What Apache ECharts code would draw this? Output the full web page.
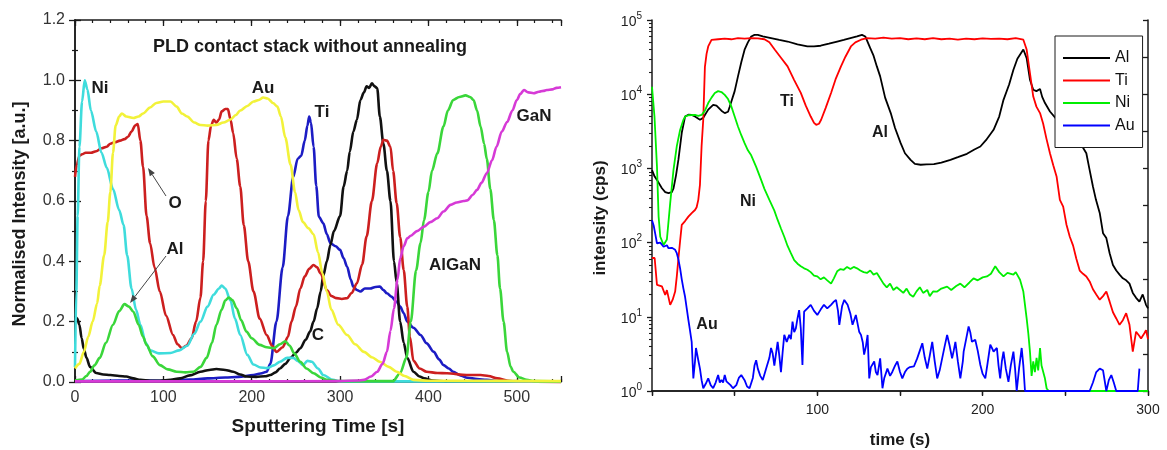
<!DOCTYPE html>
<html>
<head>
<meta charset="utf-8">
<script src="https://cdn.jsdelivr.net/npm/echarts@6/dist/echarts.min.js"></script>
<style>
  html, body { margin: 0; padding: 0; background: #ffffff; }
  #chart { width: 1167px; height: 450px; }
</style>
</head>
<body>
<div id="chart"></div>
<script>
// ---------- Left panel: normalised depth profiles, PLD stack (time [s], intensity [a.u.]) ----------
const profNi = [[0,0.05],[1.5,0.3],[3,0.55],[5,0.78],[8,0.93],[11,1.0],[14,0.97],[18,0.9],[24,0.83],[30,0.76],[36,0.71],[43,0.64],[50,0.57],[55,0.52],[59,0.42],[64,0.31],[69,0.24],[74,0.19],[80,0.13],[85,0.105],[95,0.095],[108,0.096],[118,0.105],[127,0.12],[135,0.16],[142,0.2],[150,0.25],[157,0.29],[163,0.31],[166,0.32],[170,0.31],[176,0.27],[181,0.21],[187,0.156],[195,0.09],[202,0.058],[210,0.048],[217,0.046],[225,0.055],[232,0.067],[240,0.08],[247,0.08],[252,0.07],[258,0.056],[263,0.07],[268,0.067],[275,0.045],[281,0.023],[292,0.007],[300,0.002],[550,0.002]];
const profAu = [[0,0.045],[5,0.06],[10,0.1],[15,0.15],[20,0.2],[25,0.26],[28,0.32],[33,0.42],[37,0.53],[40,0.63],[43,0.76],[46,0.85],[50,0.88],[53,0.89],[58,0.88],[66,0.875],[72,0.88],[77,0.89],[85,0.91],[92,0.925],[100,0.93],[108,0.93],[115,0.913],[121,0.89],[127,0.88],[135,0.86],[142,0.852],[150,0.85],[160,0.852],[168,0.86],[176,0.87],[182,0.885],[187,0.9],[195,0.915],[202,0.93],[208,0.935],[213,0.943],[218,0.94],[224,0.925],[229,0.913],[233,0.88],[238,0.81],[244,0.72],[249,0.63],[253,0.57],[258,0.53],[264,0.51],[270,0.49],[275,0.43],[280,0.36],[285,0.3],[290,0.24],[298,0.19],[308,0.156],[317,0.125],[327,0.1],[336,0.082],[345,0.067],[355,0.05],[364,0.034],[373,0.02],[383,0.007],[400,0.004],[550,0.003]];
const profO = [[0,0.68],[2,0.72],[5,0.75],[8,0.755],[12,0.76],[18,0.76],[24,0.765],[30,0.775],[36,0.78],[40,0.79],[45,0.795],[51,0.8],[56,0.805],[60,0.813],[64,0.83],[68,0.85],[71,0.855],[74,0.8],[77,0.714],[81,0.55],[85,0.46],[90,0.38],[96,0.3],[103,0.22],[111,0.156],[116,0.125],[121,0.112],[126,0.12],[132,0.145],[137,0.2],[142,0.28],[145,0.4],[148,0.6],[151,0.8],[154,0.85],[157,0.869],[160,0.86],[163,0.87],[166,0.897],[170,0.905],[173,0.905],[176,0.87],[179,0.825],[183,0.74],[187,0.648],[191,0.52],[196,0.4],[202,0.3],[209,0.21],[217,0.156],[223,0.12],[228,0.1],[235,0.115],[241,0.15],[245,0.2],[250,0.25],[255,0.31],[260,0.35],[265,0.375],[270,0.388],[274,0.38],[278,0.36],[285,0.305],[290,0.285],[296,0.278],[302,0.275],[308,0.278],[313,0.295],[319,0.327],[325,0.39],[330,0.482],[336,0.6],[342,0.725],[346,0.78],[349,0.803],[353,0.8],[357,0.78],[360,0.7],[364,0.593],[368,0.48],[372,0.371],[376,0.25],[379,0.15],[383,0.07],[390,0.045],[398,0.034],[410,0.03],[421,0.029],[443,0.023],[459,0.023],[468,0.02],[478,0.012],[490,0.004],[500,0.001],[550,0]];
const profTi = [[0,0.003],[50,0.005],[100,0.004],[130,0.008],[150,0.012],[170,0.015],[185,0.017],[202,0.023],[210,0.028],[217,0.034],[221,0.06],[228,0.2],[235,0.38],[241,0.55],[247,0.68],[252,0.74],[256,0.75],[260,0.8],[263,0.85],[265,0.88],[267,0.86],[270,0.78],[273,0.65],[276,0.548],[281,0.526],[285,0.49],[289,0.46],[295,0.45],[300,0.438],[304,0.41],[308,0.382],[312,0.34],[315,0.316],[319,0.305],[323,0.3],[328,0.31],[334,0.31],[340,0.315],[345,0.316],[349,0.305],[353,0.294],[358,0.283],[364,0.266],[368,0.25],[372,0.228],[376,0.2],[383,0.18],[391,0.156],[398,0.128],[406,0.1],[412,0.075],[417,0.056],[423,0.045],[428,0.034],[436,0.022],[444,0.014],[455,0.01],[466,0.007],[480,0.003],[550,0.001]];
const profAl = [[0,0.005],[8,0.008],[13,0.02],[17,0.034],[22,0.055],[28,0.08],[35,0.13],[43,0.19],[50,0.235],[56,0.258],[61,0.25],[66,0.233],[72,0.19],[77,0.15],[81,0.123],[88,0.085],[96,0.056],[105,0.042],[115,0.034],[125,0.032],[134,0.034],[142,0.05],[149,0.08],[155,0.13],[160,0.19],[166,0.24],[170,0.27],[174,0.28],[178,0.272],[183,0.244],[188,0.205],[194,0.167],[200,0.145],[209,0.123],[217,0.115],[225,0.112],[232,0.125],[238,0.135],[243,0.12],[248,0.095],[255,0.067],[262,0.045],[270,0.029],[278,0.015],[285,0.007],[300,0.003],[360,0.003],[368,0.03],[375,0.08],[380,0.2],[386,0.37],[391,0.46],[395,0.537],[400,0.63],[404,0.7],[410,0.758],[417,0.847],[422,0.9],[428,0.935],[435,0.945],[442,0.95],[447,0.945],[451,0.935],[455,0.9],[459,0.847],[463,0.79],[466,0.74],[470,0.64],[474,0.537],[478,0.42],[481,0.31],[485,0.2],[489,0.1],[493,0.05],[496,0.034],[503,0.015],[511,0.007],[520,0.003],[550,0.002]];
const profC = [[0,0.22],[2.5,0.21],[5,0.19],[7.5,0.145],[10,0.11],[13,0.08],[17,0.05],[24,0.03],[32,0.025],[40,0.023],[50,0.02],[58,0.018],[66,0.012],[74,0.007],[85,0.004],[96,0.004],[108,0.007],[119,0.012],[130,0.022],[142,0.034],[152,0.04],[160,0.043],[170,0.04],[179,0.034],[187,0.025],[194,0.018],[205,0.017],[215,0.019],[221,0.023],[227,0.032],[232,0.045],[238,0.06],[244,0.08],[250,0.097],[255,0.112],[261,0.14],[266,0.167],[270,0.2],[274,0.244],[278,0.3],[281,0.352],[285,0.4],[289,0.454],[293,0.5],[300,0.55],[304,0.648],[308,0.7],[311,0.764],[315,0.83],[319,0.869],[323,0.935],[327,0.96],[330,0.98],[333,0.975],[336,0.99],[339,0.98],[342,0.974],[345,0.88],[349,0.79],[353,0.7],[357,0.6],[361,0.4],[364,0.33],[368,0.2],[372,0.13],[376,0.08],[383,0.034],[390,0.018],[395,0.012],[405,0.005],[420,0.002],[550,0.001]];
const profGaN = [[0,0.002],[100,0.002],[200,0.002],[300,0.003],[320,0.005],[327,0.007],[335,0.018],[342,0.034],[348,0.06],[353,0.1],[357,0.17],[361,0.244],[365,0.34],[368,0.41],[372,0.45],[376,0.476],[380,0.485],[387,0.5],[395,0.515],[402,0.53],[410,0.543],[417,0.565],[425,0.587],[432,0.595],[440,0.6],[444,0.602],[450,0.62],[455,0.637],[460,0.66],[466,0.692],[472,0.735],[477,0.78],[483,0.83],[489,0.862],[495,0.9],[500,0.935],[504,0.955],[508,0.968],[513,0.96],[519,0.957],[525,0.962],[530,0.965],[534,0.968],[540,0.97],[545,0.975],[550,0.977]];

// ---------- Right panel: SIMS counts (time [s], intensity [cps]) ----------
const cpsAl = [[0,950],[1.6,776],[3,700],[6,540],[8,480],[10,464],[12,480],[13,537],[14.5,800],[16,1320],[18,3020],[20,5000],[22,5300],[24,5250],[26,5000],[29,4520],[31,4800],[32,5250],[34,6200],[37,7200],[39,7000],[40,6760],[42,6000],[44,5560],[46,5800],[47,6760],[50,11000],[52,17400],[54,27000],[56,39800],[58,50000],[60,60000],[62,63000],[64,63000],[67,60000],[72,57000],[77,54000],[82,51300],[88,47000],[94,44000],[98,44000],[102,45000],[107,48000],[112,51300],[116,54000],[120,57000],[124,60000],[127,63000],[129,60000],[132,41700],[134,33000],[136,23700],[138,17400],[141,9000],[144.4,5560],[147,3500],[150.4,2190],[153,1600],[156.4,1306],[159,1150],[162.5,1120],[166,1130],[170.5,1143],[175,1200],[180.5,1306],[185,1420],[190.5,1574],[195,1800],[198.6,1972],[202,2400],[206.6,3310],[210,5000],[212.6,8400],[216,13500],[218.6,21400],[221,30000],[224.6,40000],[226.6,30700],[228.6,15700],[230.6,11500],[232.5,11000],[234.7,11750],[236,9200],[237.7,7600],[240.7,5850],[245,4500],[250,3500],[255,2700],[259,2200],[262.7,1600],[264.5,1000],[266.7,570],[268.5,380],[270.8,251],[272.8,134],[274.8,115],[276.8,72],[278.8,50],[280.8,42],[282.8,37],[284.8,33],[286.8,31],[288.8,28],[290.8,21],[292.8,18],[294.8,16],[296.8,20],[298.8,14.5],[300,13]];
const cpsTi = [[0,62],[1.6,62],[3,27],[6,25.7],[8,19.7],[9,22.9],[11,14.5],[12.5,17],[14,21.9],[15,35],[16,62],[17,105],[18,173],[19,164],[20,195],[22,224],[24,250],[26,275],[27,300],[28,377],[29,600],[30,2000],[31,4520],[32,23400],[33,35000],[34,44000],[36,54000],[40,55000],[44,56000],[48,55000],[52,57000],[56,56000],[60,57000],[64,56500],[68,55000],[71,50000],[74.2,40000],[78,31000],[82,23700],[86,15500],[90,10400],[93,7000],[96,5000],[98,4100],[99.3,3870],[101,4000],[102.3,4520],[105,6500],[108.3,10400],[111,15800],[114.3,23700],[117,32000],[120.3,44000],[123,50000],[126.4,54200],[130,57000],[135,56000],[140,58000],[145,56000],[150,57000],[155,55000],[160,56500],[165,55000],[170,57000],[175,55000],[180,56000],[185,54500],[190,56000],[195,55000],[200,56500],[205,55500],[210,56000],[215,55000],[220,57000],[224.6,54200],[226.6,40000],[228.6,19300],[230.6,9300],[232.5,6800],[234.7,5560],[236.6,4000],[238.6,2500],[240.7,1600],[242.7,1100],[244.7,780],[246.7,377],[248.7,306],[250.7,174],[252.7,120],[254.7,91],[256.7,60],[258.7,42],[260.7,38],[262.7,35],[264.7,30],[266.7,23.5],[268.7,20],[270.8,17],[272.8,19],[274.8,21.9],[276.8,16],[278.8,11.5],[280.8,9.5],[282.8,7.8],[284.8,9],[286.8,11.2],[288.8,7.8],[290.8,3.4],[292.8,6.3],[294.8,5.5],[295.8,5.1],[297.8,6],[298.8,6.6],[300,5]];
const cpsNi = [[0,12600],[1.5,5000],[3,1070],[4,224],[5,120],[7,93],[9,110],[11,340],[13,955],[15,2000],[17,3300],[19,4520],[20,5000],[22,5200],[26,5250],[28,5100],[30,5250],[32,6000],[34,7600],[36,9000],[38,10350],[40,11000],[42,10700],[44,9800],[46,8600],[48,6840],[50,5000],[52,3670],[54,2800],[56,2190],[58,1750],[60,1500],[63,1050],[66,700],[68,530],[71,376],[74,270],[76,202],[78,155],[80,120],[82,90],[84,72],[86,58],[88,52],[90,48],[92,45],[94,43],[96,40],[98,36],[100,35],[102,32],[104,34],[106,31],[108.3,28],[110,33],[112,41],[114,44],[116,43],[118,47],[120,44],[122,47],[124,45],[126,42],[128,40],[130,39],[132,42],[134,37],[136,39],[138,33],[140,28],[142,25],[144,28],[146,23],[148,25],[150,23],[152,21],[154,24],[156,20],[158,18.6],[160,22],[162,25],[164,21],[166.5,23],[168,19],[170,22],[172.5,21.9],[175,24],[178.5,25.5],[181,23],[184,26],[186.5,28],[189,25],[192,29],[194.5,33],[197,31],[200,34],[202.6,35],[205,38],[207.6,48],[210,40],[212.6,35],[215,39],[218.6,37],[220,40],[222.6,31.6],[224.6,21.9],[225.6,20.8],[226.6,9.5],[227.6,6],[228.6,3.4],[229.6,1.6],[230.6,2.5],[231.6,1.8],[232.6,2.8],[233.6,1.9],[234.7,3.8],[235.6,2.2],[236.6,2.2],[237.6,1.5],[238.7,1.08],[240,1],[300,1]];
const cpsAu = [[0,200],[1,170],[2,130],[3,98],[5,100],[7,88],[9,92],[10,84],[12,85],[14,80],[15,72],[16,59],[17,45],[18,32],[19,24],[20,18.6],[21,13],[22,9.1],[23,6.5],[24,4.6],[25,1.48],[26,2.5],[26.6,3.8],[28,2.6],[29,2.0],[30,1.4],[31,1.09],[32.5,1.25],[34,1.48],[35.5,1.2],[37,1.09],[38.5,1.3],[40,1.64],[41,1.3],[42,1.41],[43,1.3],[44,1.64],[45,1.35],[46,1.33],[47.5,1.2],[49,1.09],[51,1.2],[52.5,1.5],[54,1.64],[56,1.4],[57.5,1.15],[59,1.09],[61,1.5],[62,2.2],[63,2.6],[64,2.0],[65.5,1.6],[67,1.41],[69,2.0],[71,2.8],[72,3.8],[73,3.2],[74,2.2],[75,2.24],[76,4.6],[77,3.0],[78,1.8],[79,3.3],[80,5.7],[81.5,4.6],[83,5.7],[84,5.0],[85,8.6],[86,6.2],[87,7.0],[88,9.5],[89,12.3],[90,7],[91,2.24],[92,11.7],[94,13],[96,14.5],[98,12],[100,10.6],[102,12.5],[104,14.5],[106,13],[108.3,14.5],[110,16],[111.3,16.9],[112.5,12],[113.3,7.8],[115,14],[116.3,16.9],[118.3,14.5],[120,11],[121.3,7.8],[123.3,10.6],[125.3,6.3],[126.4,5.7],[127.5,4.5],[128.3,3.1],[129.4,4],[130.4,5.7],[131.4,1.48],[132.4,2.1],[134.4,2.5],[135.4,1.8],[136.4,1.64],[138,2.75],[139.4,1.09],[140.5,1.5],[142.4,2.0],[144,1.6],[145.4,1.82],[147,2.2],[148.4,2.5],[150,1.8],[151.4,1.48],[153,1.8],[154.4,2.0],[156,2.1],[158.4,2.14],[160.4,2.75],[162,3.5],[163.5,4.4],[165,2.8],[166.5,2.0],[168,3.0],[169.5,4.6],[171,2.5],[172.5,1.48],[174,1.9],[175.5,2.75],[177,4],[178.5,5.7],[180,4.1],[181.5,2.75],[182.5,3.5],[183.5,4.6],[185,2.5],[186.5,1.48],[188,2.5],[188.5,3.4],[190,5],[191.5,7.4],[192.5,6.2],[193.5,4.6],[194.5,4.8],[195.5,4.9],[197,3.5],[198.6,2.24],[200,1.7],[201.6,1.48],[203,2.4],[204.6,4.2],[205.6,3.8],[206.6,3.4],[207.6,3.6],[208.6,3.8],[209.6,2.2],[210.6,1.48],[211.6,2.5],[212.6,3.4],[214,2.0],[215.6,1.33],[217,2.2],[218.6,3.4],[219.6,2.0],[220.6,1.0],[222,2.0],[223.6,3.8],[224.6,2.2],[225.6,1.0],[264.7,1.0],[266.7,1.3],[268.7,1.8],[270.8,2.0],[272.8,1.9],[274.8,1.0],[276.3,1.4],[277.8,1.64],[279.3,1.3],[280.8,1.0],[293.8,1.0],[294.8,2.0]];

const legendNames = ['Al', 'Ti', 'Ni', 'Au'];
const leftXTicks = { min: 0, max: 550, major: 100, minor: 20 };
const leftYTicks = { min: 0, max: 1.2, major: 0.2 };
const rightXTicks = { min: 0, max: 300, step: 50 };
const rightYDecades = { min: 1, max: 100000 };

// minor tick positions (log10 of 2..9 within each decade) for the counts axis
const logMinor = [];
for (let d = 0; d < 5; d++) for (let k = 2; k <= 9; k++) logMinor.push(d + Math.log10(k));

const FONT = '"Liberation Sans", Arial, Helvetica, sans-serif';
const INK = '#1a1a1a';

function tickAxis(extra) {
  return Object.assign({
    type: 'value',
    splitLine: { show: false },
    axisLine: { show: true, lineStyle: { color: INK, width: 1.5 } },
    axisTick: { show: true, inside: true, length: 6, lineStyle: { color: INK, width: 1.3 } },
    axisLabel: { show: false },
    axisPointer: { show: false },
    silent: true
  }, extra);
}

function lineSeries(name, data, color, width, xi, yi, smooth) {
  return {
    name, type: 'line', data, xAxisIndex: xi, yAxisIndex: yi,
    symbol: 'none', showSymbol: false, smooth: smooth, smoothMonotone: 'x',
    clip: false, animation: false,
    lineStyle: { color, width }, itemStyle: { color }
  };
}

function arrow(x1, y1, x2, y2) {
  const a = Math.atan2(y2 - y1, x2 - x1), L = 8, W = 3;
  const bx = x2 - L * Math.cos(a), by = y2 - L * Math.sin(a);
  const px = -Math.sin(a) * W, py = Math.cos(a) * W;
  return [
    { type: 'line', z: 100, shape: { x1, y1, x2: bx, y2: by }, style: { stroke: '#444', lineWidth: 1 } },
    { type: 'polygon', z: 100, shape: { points: [[x2, y2], [bx + px, by + py], [bx - px, by - py]] }, style: { fill: '#444' } }
  ];
}

function label(text, x, y, size, rotate) {
  return {
    type: 'text', z: 100, x, y, rotation: rotate ? Math.PI / 2 : 0,
    style: { text, fill: INK, font: 'bold ' + size + 'px ' + FONT, align: 'center', verticalAlign: 'middle' }
  };
}

const chart = echarts.init(document.getElementById('chart'), null, { renderer: 'canvas' });

const option = {
  animation: false,
  backgroundColor: '#ffffff',
  grid: [
    { left: 75, top: 20, width: 486, height: 362 },
    { left: 652, top: 20, width: 496, height: 371 }
  ],
  xAxis: [
    tickAxis({ gridIndex: 0, position: 'bottom', min: leftXTicks.min, max: leftXTicks.max, interval: leftXTicks.major,
      axisLabel: { show: true, fontSize: 16, color: '#333', fontFamily: FONT, margin: 8,
        formatter: v => (v > 500 ? '' : String(v)) } }),
    tickAxis({ gridIndex: 0, position: 'bottom', min: leftXTicks.min, max: leftXTicks.max, interval: leftXTicks.minor,
      axisLine: { show: false }, axisTick: { show: true, inside: true, length: 3, lineStyle: { color: INK, width: 1.2 } } }),
    tickAxis({ gridIndex: 0, position: 'top', min: leftXTicks.min, max: leftXTicks.max, interval: leftXTicks.major }),
    tickAxis({ gridIndex: 0, position: 'top', min: leftXTicks.min, max: leftXTicks.max, interval: leftXTicks.minor,
      axisLine: { show: false }, axisTick: { show: true, inside: true, length: 3, lineStyle: { color: INK, width: 1.2 } } }),
    tickAxis({ gridIndex: 1, position: 'bottom', min: rightXTicks.min, max: rightXTicks.max, interval: rightXTicks.step,
      axisTick: { show: true, inside: false, length: 4, lineStyle: { color: INK, width: 1.3 } },
      axisLabel: { show: true, fontSize: 14, color: '#222', fontFamily: FONT, margin: 12,
        formatter: v => (v > 0 && v % 100 === 0 ? String(v) : '') } }),
    tickAxis({ gridIndex: 1, position: 'top', min: rightXTicks.min, max: rightXTicks.max, interval: rightXTicks.step,
      axisTick: { show: true, inside: true, length: 5, lineStyle: { color: INK, width: 1.3 } } })
  ],
  yAxis: [
    tickAxis({ gridIndex: 0, position: 'left', min: leftYTicks.min, max: leftYTicks.max, interval: leftYTicks.major,
      minorTick: { show: true, splitNumber: 2, length: 3, lineStyle: { color: INK, width: 1.2 } },
      axisLabel: { show: true, fontSize: 16, color: '#333', fontFamily: FONT, margin: 10, formatter: v => v.toFixed(1) } }),
    tickAxis({ gridIndex: 0, position: 'right', min: leftYTicks.min, max: leftYTicks.max, interval: leftYTicks.major,
      minorTick: { show: true, splitNumber: 2, length: 3, lineStyle: { color: INK, width: 1.2 } } }),
    tickAxis({ gridIndex: 1, position: 'left', type: 'log', logBase: 10, min: rightYDecades.min, max: rightYDecades.max, splitNumber: 5,
      axisTick: { show: true, inside: false, length: 5, lineStyle: { color: INK, width: 1.3 } },
      axisLabel: { show: true, margin: 10, fontFamily: FONT,
        formatter: v => '{b|10}{s|' + Math.round(Math.log10(v)) + '}',
        rich: {
          b: { fontSize: 14, color: '#222', fontFamily: FONT, lineHeight: 18, verticalAlign: 'bottom' },
          s: { fontSize: 10, color: '#222', fontFamily: FONT, lineHeight: 18, verticalAlign: 'top' }
        } } }),
    tickAxis({ gridIndex: 1, position: 'left', min: 0, max: 5,
      axisLine: { show: false },
      axisTick: { show: true, inside: false, length: 3, customValues: logMinor, lineStyle: { color: INK, width: 1.1 } } }),
    tickAxis({ gridIndex: 1, position: 'right', min: 0, max: 5, interval: 0.5,
      axisTick: { show: true, inside: true, length: 5, lineStyle: { color: INK, width: 1.3 } } })
  ],
  legend: {
    data: legendNames,
    orient: 'vertical', left: 1055, top: 36,
    icon: 'rect',
    padding: [14, 8, 14, 8], itemGap: 6.5, itemWidth: 47, itemHeight: 2,
    borderColor: INK, borderWidth: 1, backgroundColor: '#ffffff',
    selectedMode: false,
    textStyle: { fontSize: 16, color: '#111', fontFamily: FONT }
  },
  series: [
    lineSeries('PLD Ti', profTi, '#1c1cc4', 2.6, 0, 0, 0.3),
    lineSeries('PLD C', profC, '#111111', 2.6, 0, 0, 0.3),
    lineSeries('PLD O', profO, '#cc1f1f', 2.6, 0, 0, 0.3),
    lineSeries('PLD Ni', profNi, '#3fdcdc', 2.6, 0, 0, 0.3),
    lineSeries('PLD Al', profAl, '#3ad63a', 2.6, 0, 0, 0.3),
    lineSeries('PLD Au', profAu, '#f2f23a', 2.6, 0, 0, 0.3),
    lineSeries('PLD GaN', profGaN, '#d63ad6', 2.6, 0, 0, 0.3),
    lineSeries('Al', cpsAl, '#000000', 1.8, 4, 2, false),
    lineSeries('Ti', cpsTi, '#ff0000', 1.8, 4, 2, false),
    lineSeries('Ni', cpsNi, '#00ee00', 1.8, 4, 2, false),
    lineSeries('Au', cpsAu, '#0000ff', 1.8, 4, 2, false)
  ],
  graphic: [
    label('PLD contact stack without annealing', 310, 47, 18),
    label('Normalised Intensity [a.u.]', 20, 214, 18, true),
    label('Sputtering Time [s]', 318, 427, 19),
    label('Ni', 100, 88, 17),
    label('Au', 263, 88, 17),
    label('Ti', 322, 112, 17),
    label('GaN', 534, 116, 17),
    label('O', 175, 203, 17),
    label('Al', 175, 249, 17),
    label('AlGaN', 455, 265, 17),
    label('C', 318, 335, 17),
    ...arrow(166, 196, 148, 168),
    ...arrow(166, 256, 130, 303),
    label('intensity (cps)', 600, 218, 17, true),
    label('time (s)', 900, 440, 17),
    label('Ti', 787, 102, 16),
    label('Al', 880, 133, 16),
    label('Ni', 748, 202, 16),
    label('Au', 707, 325, 16)
  ]
};

chart.setOption(option);
</script>
</body>
</html>
